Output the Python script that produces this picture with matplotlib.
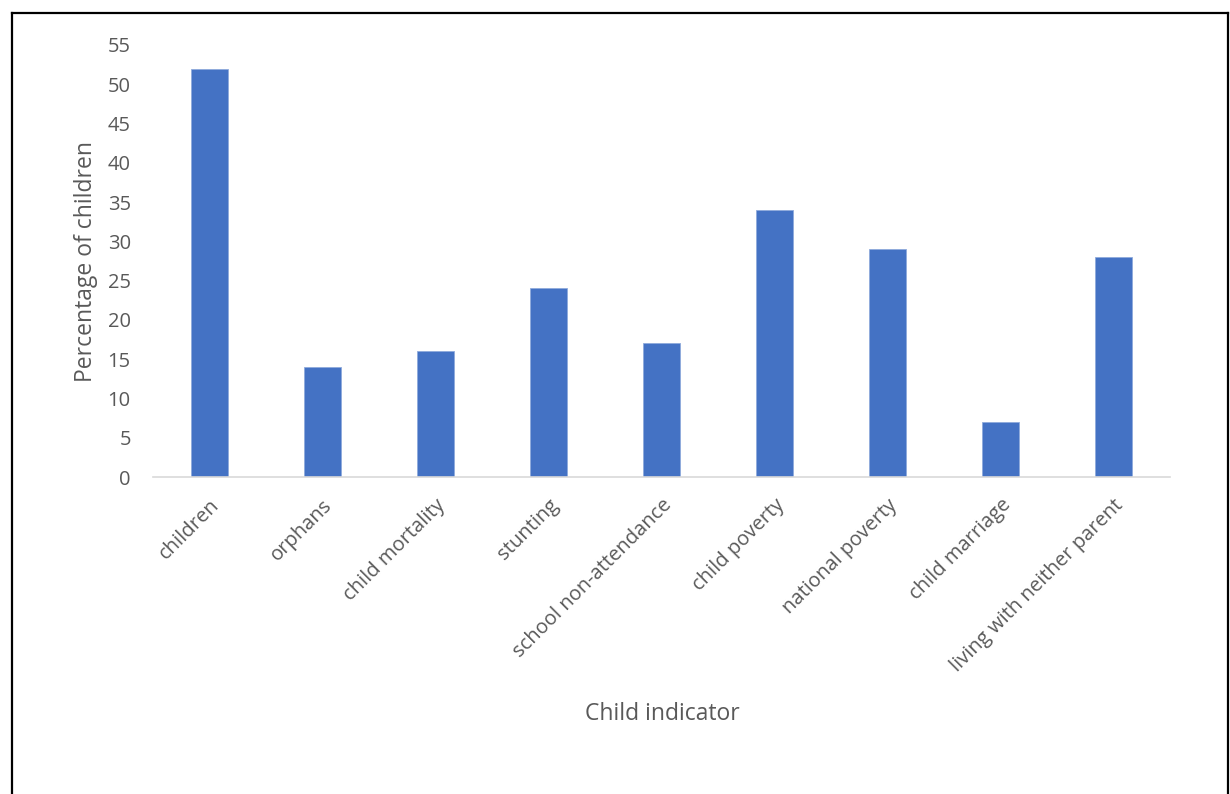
import matplotlib
matplotlib.use("Agg")
import matplotlib.pyplot as plt
from matplotlib.lines import Line2D

categories = [
    "children", "orphans", "child mortality", "stunting",
    "school non-attendance", "child poverty", "national poverty",
    "child marriage", "living with neither parent",
]
values = [52, 14, 16, 24, 17, 34, 29, 7, 28]
y_ticks = list(range(0, 60, 5))

plt.rcParams["font.family"] = ["Open Sans", "DejaVu Sans"]
text_color = "#595959"

W, H = 1230, 794
fig = plt.figure(figsize=(W / 100, H / 100), dpi=100)
ax = fig.add_axes([153 / W, 1 - 477 / H, (1170 - 153) / W, (477 - 45) / H])

x = range(len(categories))
ax.bar(x, values, width=0.32, color="#4472C4", edgecolor="#8FAADC", linewidth=0.6)

ax.set_xlim(-0.5, len(categories) - 0.5)
ax.set_ylim(0, 55)
ax.set_yticks(y_ticks)
ax.set_xticks(list(x))
ax.set_xticklabels(categories, rotation=45, ha="right", rotation_mode="anchor",
                   fontsize=14.5, color=text_color)
ax.tick_params(axis="y", labelsize=14.5, labelcolor=text_color, length=0, pad=16)
ax.tick_params(axis="x", length=0, pad=13)

for side in ("top", "right", "left"):
    ax.spines[side].set_visible(False)
ax.spines["bottom"].set_color("#D9D9D9")
ax.spines["bottom"].set_linewidth(1.2)

fig.text(86 / W, 1 - 261 / H, "Percentage of children", rotation=90,
         ha="center", va="center", fontsize=16.5, color=text_color)
fig.text(662 / W, 1 - 714 / H, "Child indicator",
         ha="center", va="center", fontsize=16.5, color=text_color)

# outer chart frame (bottom edge falls outside the image)
l, r, t = 11.5 / W, 1228 / W, 1 - 12.5 / H
for xs, ys in (([l, l], [-0.01, t]), ([l, r], [t, t]), ([r, r], [t, -0.01])):
    fig.add_artist(Line2D(xs, ys, color="black", linewidth=1.6,
                          transform=fig.transFigure))

fig.savefig("out.png", dpi=100)
